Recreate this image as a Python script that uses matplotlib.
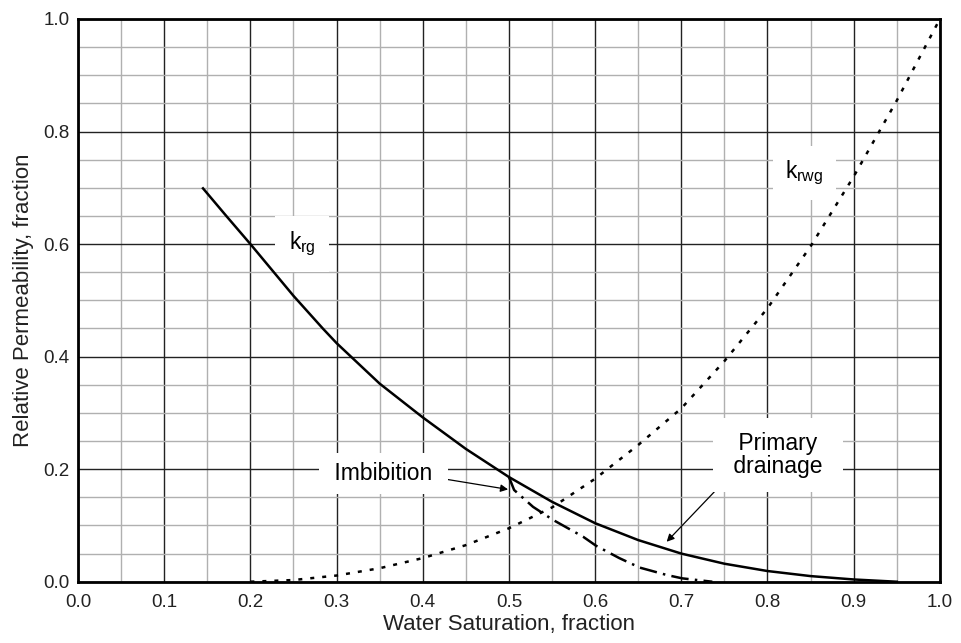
import matplotlib.pyplot as plt
from matplotlib.ticker import MultipleLocator

plt.rcParams['font.family'] = ['Liberation Sans', 'DejaVu Sans']

# gas relative permeability (primary drainage)
sw_krg = [0.145, 0.172, 0.2, 0.225, 0.25, 0.284, 0.3, 0.35, 0.4, 0.45, 0.5, 0.55, 0.6, 0.65,
          0.7, 0.75, 0.8, 0.85, 0.9, 0.95]
krg = [0.699, 0.650, 0.600, 0.554, 0.508, 0.450, 0.424, 0.352, 0.292, 0.236, 0.186, 0.142, 0.104, 0.074,
       0.050, 0.032, 0.019, 0.010, 0.004, 0.0]

# gas relative permeability (imbibition)
sw_imb = [0.5, 0.506, 0.528, 0.551, 0.586, 0.601, 0.628, 0.652, 0.683, 0.701, 0.736]
krg_imb = [0.186, 0.163, 0.133, 0.110, 0.080, 0.064, 0.042, 0.025, 0.012, 0.006, 0.0]

# water relative permeability
sw_krw = [0.2, 0.25, 0.3, 0.35, 0.4, 0.45, 0.5, 0.55, 0.6, 0.65, 0.7, 0.75, 0.8, 0.85, 0.9, 0.95, 1.0]
krwg = [0.0, 0.003, 0.011, 0.024, 0.042, 0.065, 0.095, 0.132, 0.183, 0.243, 0.308, 0.392, 0.486, 0.596, 0.72, 0.855, 1.0]

fig = plt.figure(figsize=(9.61, 6.43), dpi=100)
ax = fig.add_axes([0.0812, 0.0953, 0.8968, 0.8752])

ax.set_xlim(0, 1)
ax.set_ylim(0, 1)
ax.xaxis.set_major_locator(MultipleLocator(0.1))
ax.xaxis.set_minor_locator(MultipleLocator(0.05))
ax.yaxis.set_major_locator(MultipleLocator(0.2))
ax.yaxis.set_minor_locator(MultipleLocator(0.05))
ax.set_axisbelow(True)
ax.grid(which='minor', color='#b0b0b0', lw=1.0)
ax.grid(which='major', color='#222222', lw=1.0)
ax.tick_params(which='both', length=0, labelsize=13.5, colors='#222222')
ax.tick_params(axis='x', pad=9)
ax.tick_params(axis='y', pad=6)
ax.xaxis.set_major_formatter(lambda v, p: f'{v:.1f}')
ax.yaxis.set_major_formatter(lambda v, p: f'{v:.1f}')
for s in ax.spines.values():
    s.set_linewidth(2)
    s.set_zorder(5)

ax.plot(sw_krg, krg, color='black', lw=1.8, zorder=3, solid_joinstyle='round')
ax.plot(sw_imb, krg_imb, color='black', lw=1.8, dashes=(7, 2.5, 1, 2.5), zorder=3)
ax.plot(sw_krw, krwg, color='black', lw=1.8, dashes=(1.6, 3.2), zorder=3)

fs = 16.5
ax.text(0.26, 0.60, r'k$_{\mathregular{rg}}$', fontsize=fs, ha='center', va='center',
        bbox=dict(facecolor='white', edgecolor='none', boxstyle='square,pad=0.6'), zorder=2)
ax.text(0.843, 0.726, r'k$_{\mathregular{rwg}}$', fontsize=fs, ha='center', va='center',
        bbox=dict(facecolor='white', edgecolor='none', boxstyle='square,pad=0.55'), zorder=2)
ax.annotate(' Imbibition ', xy=(0.499, 0.164), xytext=(0.354, 0.1925), fontsize=fs,
            ha='center', va='center',
            bbox=dict(facecolor='white', edgecolor='none', boxstyle='square,pad=0.4'),
            arrowprops=dict(arrowstyle='-|>', color='black', lw=0.9, mutation_scale=11,
                            shrinkA=0, shrinkB=0, relpos=(1.0, 0.3)), zorder=2)
ax.annotate(' Primary \n drainage ', xy=(0.683, 0.071), xytext=(0.812, 0.225), fontsize=fs,
            ha='center', va='center', linespacing=1.0,
            bbox=dict(facecolor='white', edgecolor='none', boxstyle='square,pad=0.6'),
            arrowprops=dict(arrowstyle='-|>', color='black', lw=0.9, mutation_scale=11,
                            shrinkA=0, shrinkB=0, relpos=(0.07, 0.15)), zorder=2)

ax.set_xlabel('Water Saturation, fraction', fontsize=16, labelpad=2, color='#222222')
ax.set_ylabel('Relative Permeability, fraction', fontsize=16, labelpad=7, color='#222222')

fig.savefig('out.png', dpi=100)
